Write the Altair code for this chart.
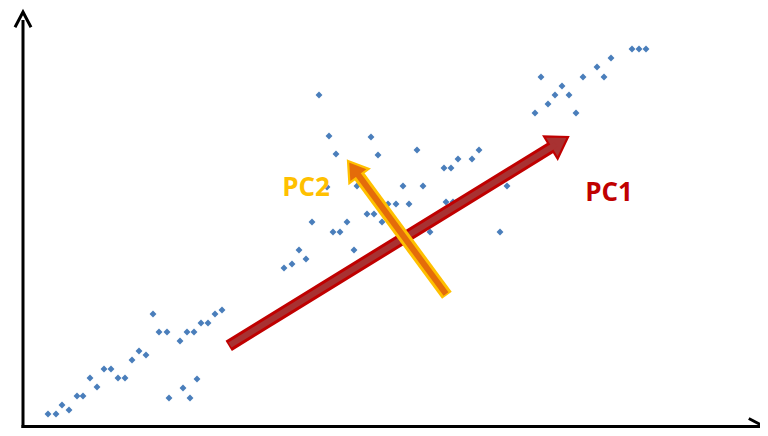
import math
import altair as alt
import pandas as pd

# scatter points (chart units: origin at the axes corner, y up)
pts_x = [25, 33, 39, 46, 54, 60, 67, 74, 81, 88, 95, 102, 109, 116, 123, 130, 136, 144,
         157, 164, 171, 178, 185, 192, 199, 146, 160, 167, 174,
         296, 306, 348, 313, 355, 394, 435, 449, 456, 421, 428, 304, 334, 380, 400, 484,
         365, 373, 386, 423, 430, 344, 351, 359, 289, 324, 310, 317, 407, 477,
         276, 283, 269, 261, 331,
         609, 616, 623, 588, 574, 581, 560, 518, 539, 532, 546, 525, 512, 553]
pts_y = [16, 16, 25, 20, 34, 34, 52, 43, 61, 61, 52, 52, 70, 79, 75, 116, 98, 98,
         89, 98, 98, 107, 107, 116, 120, 32, 42, 32, 51,
         335, 294, 293, 276, 275, 280, 271, 271, 280, 262, 262, 243, 244, 244, 244, 244,
         226, 226, 226, 228, 228, 216, 216, 208, 208, 208, 198, 198, 198, 198,
         180, 171, 166, 162, 180,
         381, 381, 381, 372, 363, 353, 353, 353, 344, 335, 335, 326, 317, 317]

# principal component arrows: tail and tip
pc1_tail = [207, 85]
pc1_tip = [545, 293]
pc2_tail = [423, 136]
pc2_tip = [325, 269]

labels = ["PC2", "PC1"]
label_x = [283, 586]
label_y = [234, 229]
label_colors = ["#FFC000", "#C00000"]

XS = alt.Scale(domain=[-15, 737], nice=False, zero=False)
YS = alt.Scale(domain=[2, 422], nice=False, zero=False)


def X(f="x"):
    return alt.X(f"{f}:Q", scale=XS, axis=None)


def Y(f="y"):
    return alt.Y(f"{f}:Q", scale=YS, axis=None)


HEAD_PATH = "M0,-1L1,0.55L-1,0.55Z"


def arrow_layers(tail, tip, outline, inner, w_out, w_in, r):
    dx, dy = tip[0] - tail[0], tip[1] - tail[1]
    L = math.hypot(dx, dy)
    ux, uy = dx / L, dy / L
    ang = math.degrees(math.atan2(ux, uy)) % 360
    hc = (tip[0] - r * ux, tip[1] - r * uy)
    end = (tip[0] - r * 1.1 * ux, tip[1] - r * 1.1 * uy)
    st_o = (tail[0] - 1.5 * ux, tail[1] - 1.5 * uy)
    outline_df = pd.DataFrame({"x": [st_o[0]], "y": [st_o[1]], "x2": [end[0]], "y2": [end[1]]})
    inner_df = pd.DataFrame({"x": [tail[0]], "y": [tail[1]], "x2": [end[0]], "y2": [end[1]]})
    head_df = pd.DataFrame({"x": [hc[0]], "y": [hc[1]]})
    o = alt.Chart(outline_df).mark_rule(color=outline, strokeWidth=w_out, strokeCap="butt").encode(
        x=X(), y=Y(), x2="x2:Q", y2="y2:Q")
    h = alt.Chart(head_df).mark_point(
        shape=HEAD_PATH, filled=True, fill=inner, stroke=outline, strokeWidth=2.2,
        size=(2 * r) ** 2, angle=ang, opacity=1).encode(x=X(), y=Y())
    i = alt.Chart(inner_df).mark_rule(color=inner, strokeWidth=w_in, strokeCap="butt").encode(
        x=X(), y=Y(), x2="x2:Q", y2="y2:Q")
    return [o, h, i]


pts = pd.DataFrame({"x": pts_x, "y": pts_y})
scatter = alt.Chart(pts).mark_point(
    shape="diamond", filled=True, color="#4A7EBB", size=48, opacity=1).encode(x=X(), y=Y())

# axes drawn as arrows
axes_df = pd.DataFrame({"x": [0, -1.5], "y": [2, 3.5], "x2": [0, 737], "y2": [410, 3.5]})
axes = alt.Chart(axes_df).mark_rule(color="black", strokeWidth=3).encode(
    x=X(), y=Y(), x2="x2:Q", y2="y2:Q")
heads_df = pd.DataFrame({"x": [0, 733], "y": [410, 3.5], "a": [0, 90]})
ax_heads = alt.Chart(heads_df).mark_point(
    shape="M-1,0.9L0,-1L1,0.9", filled=False, color="black", strokeWidth=3, size=256,
    opacity=1, strokeJoin="miter").encode(x=X(), y=Y(), angle=alt.Angle("a:Q", scale=None))

lab_df = pd.DataFrame({"t": labels, "x": label_x, "y": label_y, "c": label_colors})
texts = alt.Chart(lab_df).mark_text(
    font="Open Sans", fontWeight="bold", fontSize=26, align="center", baseline="alphabetic"
).encode(x=X(), y=Y(), text="t:N", color=alt.Color("c:N", scale=None))

layers = [axes, ax_heads, scatter]
layers += arrow_layers(pc1_tail, pc1_tip, "#C00000", "#A83232", 12, 6, 13)
layers += arrow_layers(pc2_tail, pc2_tip, "#FFC000", "#E46C0A", 12, 6, 12)
layers += [texts]

chart = alt.layer(*layers).properties(
    width=752, height=420, padding=0, autosize=alt.AutoSizeParams(type="none")
).configure_view(stroke=None)

chart.save("out.html", embed_options={"renderer": "svg", "actions": False})
